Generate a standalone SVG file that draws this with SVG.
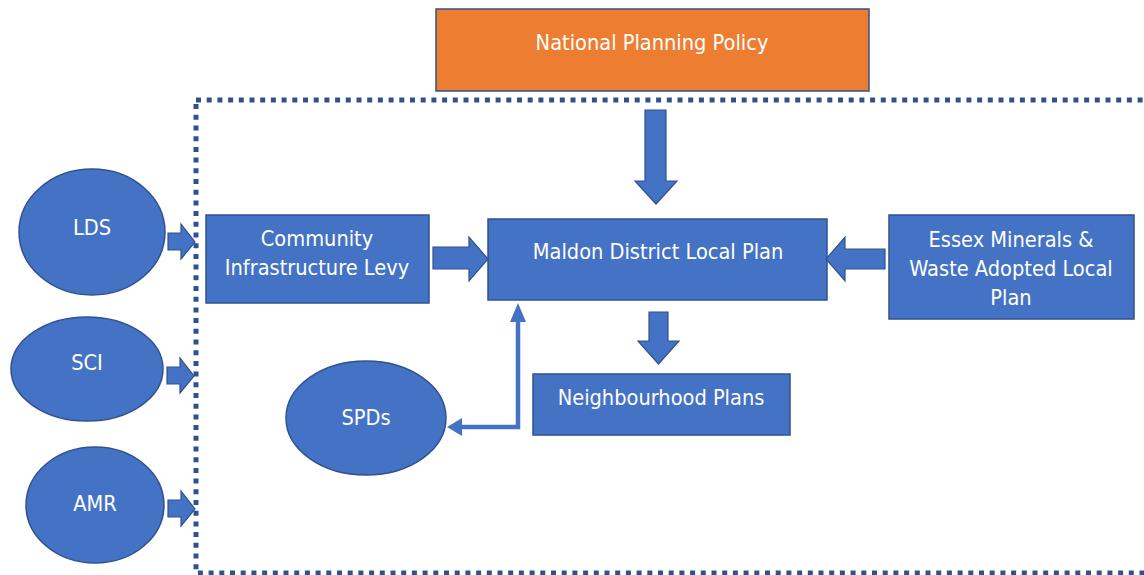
<svg xmlns="http://www.w3.org/2000/svg" width="1144" height="575" viewBox="0 0 1144 575">
<style>
.box{fill:#4472C4;stroke:#2F528F;stroke-width:1.5}
.npp{fill:#ED7D31;stroke:#2F528F;stroke-width:1.5}
.t{fill:#FFFFFF;font-family:"DejaVu Sans Condensed","DejaVu Sans","Liberation Sans",sans-serif;font-size:21.6px;text-anchor:middle}
.blk{fill:#4472C4;stroke:#2F528F;stroke-width:1.2}
.ln{fill:none;stroke:#4472C4;stroke-width:4.5}
.hd{fill:#4472C4}
</style>
<rect x="196" y="100" width="960" height="473" fill="none" stroke="#2F528F" stroke-width="5" stroke-dasharray="5 5.7"/>
<g id="npp"><rect class="npp" x="436" y="9" width="433" height="82"/><text class="t" x="652" y="50">National Planning Policy</text></g>
<g id="lds"><ellipse class="box" cx="92" cy="232" rx="73" ry="63"/><text class="t" x="92" y="235">LDS</text></g>
<g id="sci"><ellipse class="box" cx="87" cy="369" rx="76" ry="52"/><text class="t" x="87" y="370">SCI</text></g>
<g id="amr"><ellipse class="box" cx="95" cy="505" rx="69" ry="58"/><text class="t" x="95" y="511">AMR</text></g>
<g id="cil"><rect class="box" x="206" y="215" width="223" height="88"/><text class="t" x="317" y="246">Community</text><text class="t" x="317" y="275">Infrastructure Levy</text></g>
<g id="maldon"><rect class="box" x="488" y="219" width="339" height="81"/><text class="t" x="658" y="259">Maldon District Local Plan</text></g>
<g id="np"><rect class="box" x="533" y="374" width="257" height="61"/><text class="t" x="661" y="405">Neighbourhood Plans</text></g>
<g id="essex"><rect class="box" x="889" y="215" width="245" height="104"/><text class="t" x="1011" y="247">Essex Minerals &amp;</text><text class="t" x="1011" y="276">Waste Adopted Local</text><text class="t" x="1011" y="305">Plan</text></g>
<g id="spds"><ellipse class="box" cx="366" cy="418" rx="80" ry="57"/><text class="t" x="366" y="425">SPDs</text></g>
<g id="connectors">
<polygon class="blk" points="168,233 181,233 181,224 195,242 181,259 181,250 168,250"/>
<polygon class="blk" points="167,367 180,367 180,358 194,376 180,393 180,384 167,384"/>
<polygon class="blk" points="168,500 181,500 181,491 195,509 181,526 181,517 168,517"/>
<polygon class="blk" points="433,247 469,247 469,237 488,259 469,281 469,269 433,269"/>
<polygon class="blk" points="885,249 845,249 845,237 826,259 845,281 845,269 885,269"/>
<polygon class="blk" points="645,110 666,110 666,181 677,181 656,204 635,181 645,181"/>
<polygon class="blk" points="649,312 668,312 668,341 679,341 658.5,364 638,341 649,341"/>
<polyline class="ln" points="460,427 518,427 518,320"/>
<polygon class="hd" points="518,303 526,322 510,322"/>
<polygon class="hd" points="447,427 462,418 462,436"/>
</g>
</svg>
